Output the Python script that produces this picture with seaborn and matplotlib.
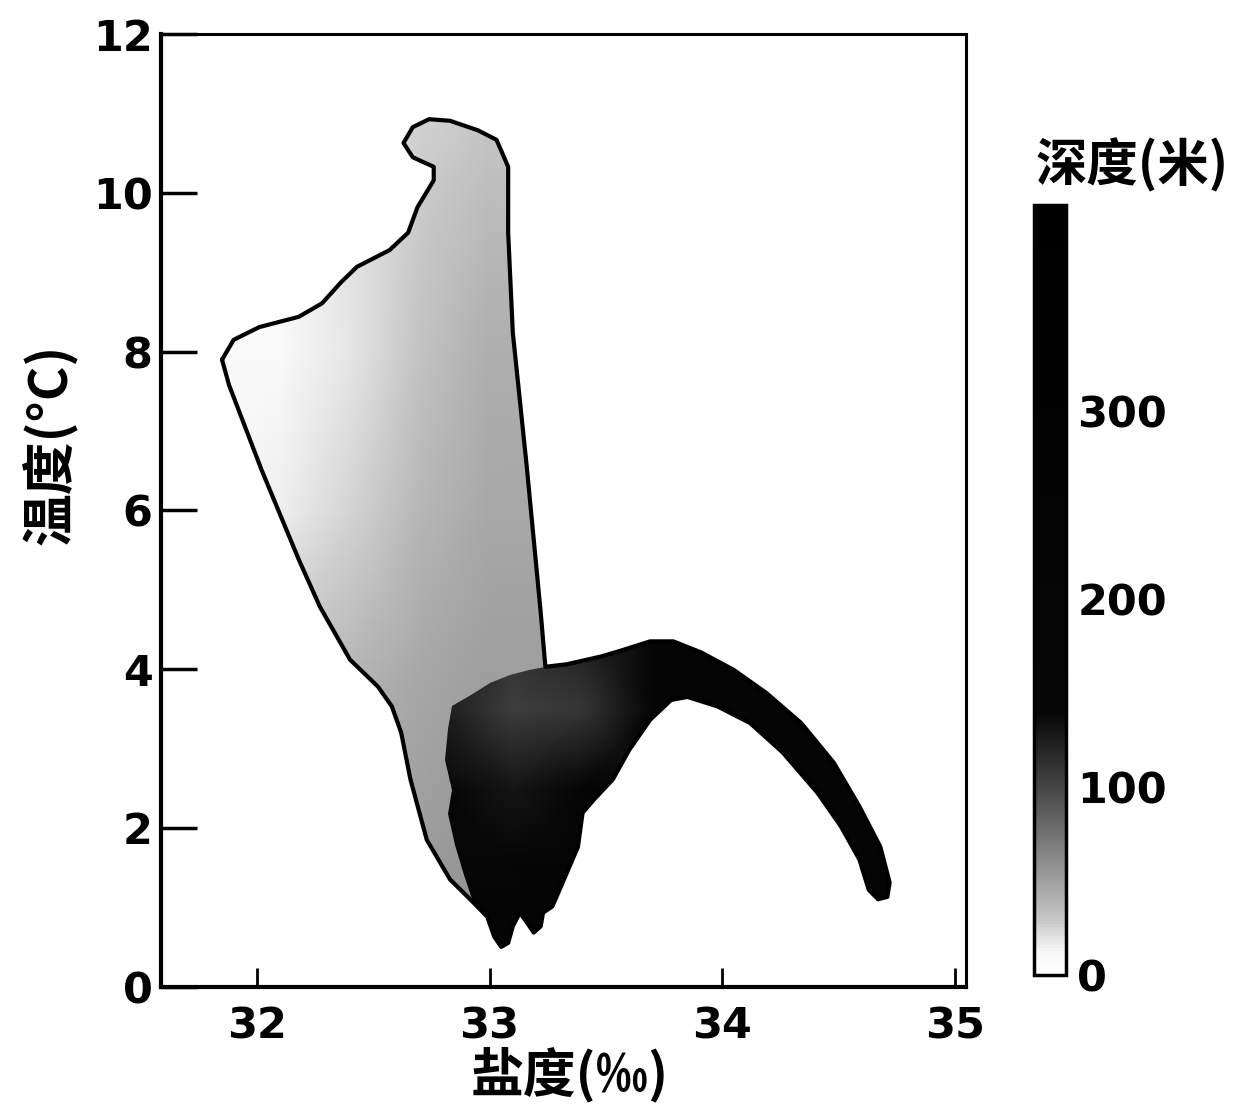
import numpy as np
import matplotlib
matplotlib.use("Agg")
import matplotlib.pyplot as plt
import seaborn as sns
from matplotlib.colors import LinearSegmentedColormap, Normalize
from matplotlib.patches import Polygon

# T-S diagram: outline of the whole cloud of observations (salinity, temperature)
outline_sal = [31.85, 31.90, 32.01, 32.18, 32.28, 32.36, 32.43, 32.57, 32.65, 32.69,
               32.76, 32.76, 32.67, 32.63, 32.67, 32.74, 32.83, 32.95, 33.03, 33.08,
               33.08, 33.10, 33.16, 33.22, 33.24, 33.33, 33.48, 33.55, 33.69, 33.79,
               33.91, 34.05, 34.19, 34.34, 34.48, 34.59, 34.68, 34.72, 34.71, 34.67,
               34.63, 34.59, 34.51, 34.41, 34.26, 34.12, 33.98, 33.85, 33.78, 33.69,
               33.60, 33.53, 33.45, 33.40, 33.38, 33.32, 33.27, 33.23, 33.22, 33.19,
               33.16, 33.13, 33.10, 33.08, 33.05, 33.02, 32.99, 32.93, 32.83, 32.73,
               32.66, 32.62, 32.58, 32.52, 32.40, 32.27, 32.18, 32.02, 31.88]
outline_temp = [7.90, 8.15, 8.31, 8.44, 8.61, 8.87, 9.07, 9.28, 9.50, 9.82,
                10.16, 10.33, 10.45, 10.63, 10.83, 10.93, 10.91, 10.79, 10.67, 10.33,
                9.50, 8.24, 6.55, 4.71, 4.03, 4.06, 4.16, 4.22, 4.35, 4.35,
                4.21, 3.99, 3.70, 3.32, 2.82, 2.27, 1.76, 1.31, 1.13, 1.10,
                1.22, 1.60, 2.02, 2.44, 2.95, 3.32, 3.53, 3.65, 3.61, 3.36,
                2.98, 2.61, 2.36, 2.19, 1.76, 1.35, 1.01, 0.93, 0.76, 0.68,
                0.81, 0.93, 0.76, 0.55, 0.50, 0.63, 0.88, 1.06, 1.35, 1.85,
                2.61, 3.20, 3.53, 3.78, 4.12, 4.79, 5.38, 6.51, 7.58]

# deep water part (dark) of the cloud
deep_sal = outline_sal[24:68] + [32.89, 32.85, 32.82, 32.84, 32.81, 32.82, 32.84,
                                 32.92, 33.00, 33.09, 33.17]
deep_temp = outline_temp[24:68] + [1.41, 1.79, 2.17, 2.48, 2.86, 3.24, 3.53,
                                   3.68, 3.83, 3.93, 3.99]

upper_sal = [31.8, 32.1, 32.4, 32.7, 33.0, 33.3]
upper_temp = [0.4, 2.0, 4.0, 6.0, 8.0, 10.0, 11.2]
upper_depth = [[50, 50, 50, 55, 60, 60],
               [45, 45, 45, 50, 55, 55],
               [35, 35, 38, 45, 50, 50],
               [10, 15, 25, 38, 45, 45],
               [5, 8, 18, 32, 42, 42],
               [5, 10, 20, 28, 35, 35],
               [5, 10, 20, 25, 30, 30]]

# depth (m), deep water
lower_sal = [32.8, 33.1, 33.4, 33.7, 34.0, 34.8]
lower_temp = [0.4, 1.5, 2.5, 3.5, 4.5]
lower_depth = [[250, 250, 250, 250, 250, 250],
               [200, 200, 250, 250, 250, 250],
               [140, 130, 170, 250, 250, 250],
               [125, 105, 110, 180, 250, 250],
               [130, 115, 125, 200, 250, 250]]

cbar_ticks = [0, 100, 200, 300]
depth_max = 410

sns.set_style("ticks")
plt.rcParams['font.family'] = ['Noto Sans CJK SC', 'DejaVu Sans']
for key in ["text.color", "axes.labelcolor", "xtick.color", "ytick.color", "axes.edgecolor"]:
    plt.rcParams[key] = "black"

# grey scale used in the original (white at surface -> black below ~140 m)
stops = [(0.0, "#ffffff"), (12 / depth_max, "#f6f6f6"), (30 / depth_max, "#c4c4c4"),
         (60 / depth_max, "#8c8c8c"), (100 / depth_max, "#454545"),
         (140 / depth_max, "#060606"), (1.0, "#000000")]
cmap = LinearSegmentedColormap.from_list("depth_grey", stops)
norm = Normalize(vmin=0, vmax=depth_max)

fig = plt.figure(figsize=(12.47, 11.06), dpi=100)
ax = fig.add_axes([0.129, 0.108, 0.646, 0.861])

ax.set_xlim(31.587, 35.05)
ax.set_ylim(0, 12)

# upper (light) water
S, T = np.meshgrid(upper_sal, upper_temp)
m1 = ax.pcolormesh(S, T, np.array(upper_depth), cmap=cmap, norm=norm, shading="gouraud")
clip1 = Polygon(np.column_stack([outline_sal, outline_temp]), closed=True, transform=ax.transData)
m1.set_clip_path(clip1)

# deep water
S2, T2 = np.meshgrid(lower_sal, lower_temp)
m2 = ax.pcolormesh(S2, T2, np.array(lower_depth), cmap=cmap, norm=norm, shading="gouraud")
clip2 = Polygon(np.column_stack([deep_sal, deep_temp]), closed=True, transform=ax.transData)
m2.set_clip_path(clip2)

# outline
sns.lineplot(x=outline_sal + outline_sal[:1], y=outline_temp + outline_temp[:1],
             sort=False, estimator=None, color="black", lw=3,
             solid_joinstyle="round", ax=ax)

ax.set_xticks([32, 33, 34, 35])
ax.set_yticks([0, 2, 4, 6, 8, 10, 12])
ax.tick_params(axis="x", direction="in", length=14, width=2, pad=14)
ax.tick_params(axis="y", direction="in", length=26, width=2.5, pad=6)
for lab in ax.get_xticklabels() + ax.get_yticklabels():
    lab.set_fontsize(31)
    lab.set_fontweight("bold")
    lab.set_family("DejaVu Sans")
for side in ["left", "bottom"]:
    ax.spines[side].set_linewidth(3)
for side in ["top", "right"]:
    ax.spines[side].set_linewidth(2.2)
ax.set_xlabel("")
ax.set_ylabel("")

fig.text(0.457, 0.028, "盐度(‰)", ha="center", va="center", fontsize=38, fontweight="bold")
fig.text(0.040, 0.598, "温度(°C)", ha="center", va="center", rotation=90,
         fontsize=38, fontweight="bold")

# colorbar
cax = fig.add_axes([0.829, 0.118, 0.026, 0.697])
cb = fig.colorbar(m1, cax=cax)
cb.set_ticks(cbar_ticks)
cb.ax.tick_params(length=0, pad=8)
for lab in cb.ax.get_yticklabels():
    lab.set_fontsize(31)
    lab.set_fontweight("bold")
    lab.set_family("DejaVu Sans")
cb.outline.set_linewidth(2.5)
fig.text(0.908, 0.851, "深度(米)", ha="center", va="center", fontsize=37, fontweight="bold")

fig.savefig("out.png", dpi=100)
